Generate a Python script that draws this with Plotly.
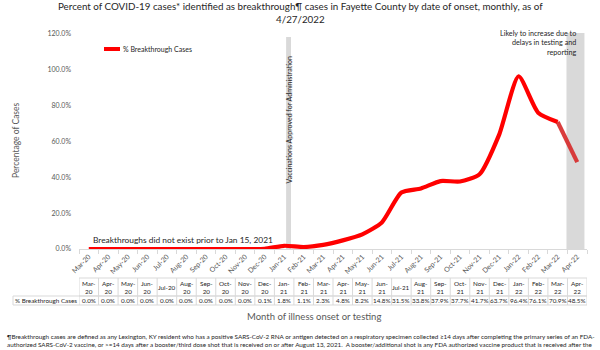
import plotly.graph_objects as go

# Monthly share of cases identified as breakthrough, Fayette County
months = ["Mar-20", "Apr-20", "May-20", "Jun-20", "Jul-20", "Aug-20", "Sep-20",
          "Oct-20", "Nov-20", "Dec-20", "Jan-21", "Feb-21", "Mar-21", "Apr-21",
          "May-21", "Jun-21", "Jul-21", "Aug-21", "Sep-21", "Oct-21", "Nov-21",
          "Dec-21", "Jan-22", "Feb-22", "Mar-22", "Apr-22"]
pct_breakthrough = [0.0, 0.0, 0.0, 0.0, 0.0, 0.0, 0.0, 0.0, 0.0, 0.1, 1.8, 1.1,
                    2.3, 4.8, 8.2, 14.8, 31.5, 33.8, 37.9, 37.7, 41.7, 63.7,
                    96.4, 76.1, 70.9, 48.5]
y_ticks = [0, 20, 40, 60, 80, 100, 120]
series_name = "% Breakthrough Cases"

W, H = 600, 350
L, R, T, B = 79, 13, 34, 101
PW, PH = W - L - R, H - T - B
n = len(months)

FONT = "Lato"
GREY = "#595959"
DARK = "#262626"
RED = "#ff0000"


def px_x(px):
    return (px - L) / PW


def px_y(py):
    return (T + PH - py) / PH


x = list(range(n))

fig = go.Figure()
# Main series (smoothed line); the latest month is incomplete and shown muted
fig.add_trace(go.Scatter(
    x=x[:-1], y=pct_breakthrough[:-1], mode="lines", name=series_name,
    line=dict(color=RED, width=4.2, shape="spline", smoothing=0.6),
    hoverinfo="x+y", showlegend=False))
fig.add_trace(go.Scatter(
    x=x[-2:], y=pct_breakthrough[-2:], mode="lines", name=series_name,
    line=dict(color="rgba(214,40,40,0.9)", width=4.2),
    hoverinfo="x+y", showlegend=False))

shapes = []
annotations = []

# Vaccination approval marker band (mid-January 2021)
shapes.append(dict(type="rect", xref="x", yref="paper", x0=10.1, x1=10.35,
                   y0=0, y1=px_y(37), fillcolor="#d9d9d9", line_width=0,
                   layer="below"))
# Incomplete-data band over the latest month
shapes.append(dict(type="rect", xref="x", yref="paper", x0=24.45, x1=25.37,
                   y0=0, y1=px_y(33), fillcolor="#d9d9d9", line_width=0,
                   layer="below"))

# Legend sample
shapes.append(dict(type="line", xref="paper", yref="paper",
                   x0=px_x(104), x1=px_x(120), y0=px_y(49), y1=px_y(49),
                   line=dict(color=RED, width=4)))
annotations.append(dict(xref="paper", yref="paper", x=px_x(120.5), y=px_y(49),
                        xanchor="left", yanchor="middle", showarrow=False,
                        text=series_name, font=dict(size=7, color=DARK, family=FONT)))

# Title
annotations.append(dict(xref="paper", yref="paper", x=px_x(300), y=px_y(12),
                        xanchor="center", yanchor="middle", showarrow=False,
                        text="Percent of COVID-19 cases* identified as breakthrough¶ cases in Fayette County by date of onset, monthly, as of<br>4/27/2022",
                        font=dict(size=9.8, color=DARK, family=FONT)))

# Axis titles
annotations.append(dict(xref="paper", yref="paper", x=px_x(16), y=px_y(140),
                        xanchor="center", yanchor="middle", showarrow=False,
                        textangle=-90, text="Percentage of Cases",
                        font=dict(size=8.5, color=GREY, family=FONT)))
annotations.append(dict(xref="paper", yref="paper", x=px_x(314), y=px_y(316),
                        xanchor="center", yanchor="middle", showarrow=False,
                        text="Month of illness onset or testing",
                        font=dict(size=9.5, color=GREY, family=FONT)))

# Notes on the chart
annotations.append(dict(xref="paper", yref="paper", x=px_x(183), y=px_y(240),
                        xanchor="center", yanchor="middle", showarrow=False,
                        text="Breakthroughs did not exist prior to Jan 15, 2021",
                        font=dict(size=8.4, color=DARK, family=FONT)))
annotations.append(dict(xref="x", yref="paper", x=10.225, y=px_y(120),
                        xanchor="center", yanchor="middle", showarrow=False,
                        textangle=-90, text="Vaccinations Approved for Administration",
                        font=dict(size=7, color=DARK, family=FONT)))
annotations.append(dict(xref="paper", yref="paper", x=px_x(579), y=px_y(43),
                        xanchor="right", yanchor="middle", showarrow=False,
                        align="right",
                        text="Likely to increase due to<br>delays in testing and<br>reporting",
                        font=dict(size=7.2, color=DARK, family=FONT)))

# Data table under the axis
TBL_TOP, TBL_MID, TBL_BOT = 278, 296, 305
BORDER = "#d9d9d9"
for i in range(n + 1):
    shapes.append(dict(type="line", xref="x", yref="paper",
                       x0=i - 0.5, x1=i - 0.5, y0=px_y(TBL_TOP), y1=px_y(TBL_BOT),
                       line=dict(color=BORDER, width=1)))
for yy in (TBL_TOP, TBL_MID):
    shapes.append(dict(type="line", xref="x", yref="paper",
                       x0=-0.5, x1=n - 0.5, y0=px_y(yy), y1=px_y(yy),
                       line=dict(color=BORDER, width=1)))
shapes.append(dict(type="line", xref="paper", yref="paper",
                   x0=px_x(13), x1=1, y0=px_y(TBL_MID), y1=px_y(TBL_MID),
                   line=dict(color=BORDER, width=1)))
shapes.append(dict(type="line", xref="paper", yref="paper",
                   x0=px_x(13), x1=1, y0=px_y(TBL_BOT), y1=px_y(TBL_BOT),
                   line=dict(color=BORDER, width=1)))
shapes.append(dict(type="line", xref="paper", yref="paper",
                   x0=px_x(13), x1=px_x(13), y0=px_y(TBL_MID), y1=px_y(TBL_BOT),
                   line=dict(color=BORDER, width=1)))

annotations.append(dict(xref="paper", yref="paper", x=px_x(46), y=px_y(300.5),
                        xanchor="center", yanchor="middle", showarrow=False,
                        text=series_name, font=dict(size=6.3, color=DARK, family=FONT)))
for i, (m, v) in enumerate(zip(months, pct_breakthrough)):
    mon, yr = m.split("-")
    head = m if mon == "Jul" else f"{mon}-<br>{yr}"
    annotations.append(dict(xref="x", yref="paper", x=i, y=px_y(287),
                            xanchor="center", yanchor="middle", showarrow=False,
                            text=head, font=dict(size=6.3, color=DARK, family=FONT)))
    annotations.append(dict(xref="x", yref="paper", x=i, y=px_y(300.5),
                            xanchor="center", yanchor="middle", showarrow=False,
                            text=f"{v:.1f}%", font=dict(size=6.3, color=DARK, family=FONT)))

# Footnote
annotations.append(dict(xref="paper", yref="paper", x=px_x(5), y=px_y(340.5),
                        xanchor="left", yanchor="middle", showarrow=False,
                        align="left",
                        text="¶Breakthrough cases are defined as any Lexington, KY resident who has a positive SARS-CoV-2 RNA or antigen detected on a respiratory specimen collected ≥14 days after completing the primary series of an FDA-<br>authorized SARS-CoV-2 vaccine, or >=14 days after a booster/third dose shot that is received on or after August 13, 2021.  A booster/additional shot is any FDA authorized vaccine product that is received after the",
                        font=dict(size=6.3, color=DARK, family=FONT)))

fig.update_layout(
    width=W, height=H,
    margin=dict(l=L, r=R, t=T, b=B),
    paper_bgcolor="white", plot_bgcolor="white",
    font=dict(family=FONT, color=GREY),
    shapes=shapes, annotations=annotations,
    xaxis=dict(range=[-0.5, n - 0.5], tickmode="array", tickvals=x,
               ticktext=months, tickangle=-45, ticks="",
               tickfont=dict(size=7, color=GREY, family=FONT),
               showgrid=False, zeroline=False, showline=True,
               linecolor="#d9d9d9", linewidth=1,
               minor=dict(tickmode="array", tickvals=[i - 0.5 for i in range(n + 1)],
                          ticks="outside", ticklen=4, tickcolor="#d9d9d9")),
    yaxis=dict(range=[0, 120], tickmode="array", tickvals=y_ticks,
               ticktext=[f"{t:.1f}%" for t in y_ticks],
               tickfont=dict(size=7, color=GREY, family=FONT),
               showgrid=False, zeroline=False, showline=False,
               ticklabelstandoff=7),
)

fig.write_html("out.html")
